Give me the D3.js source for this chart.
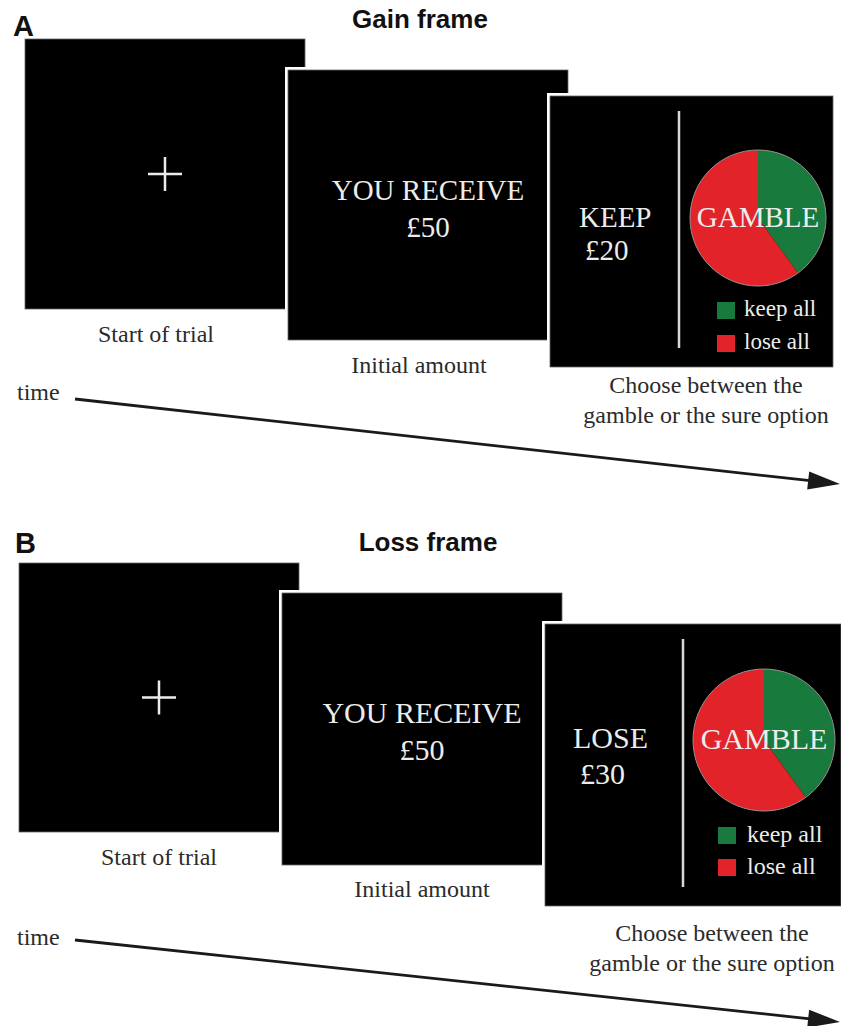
<!DOCTYPE html>
<html><head><meta charset="utf-8">
<script src="https://cdn.jsdelivr.net/npm/d3@7"></script>
<style>
html,body{margin:0;padding:0;background:#fff;}
svg{display:block;}
</style></head>
<body>
<svg id="c" width="841" height="1026"></svg>
<script>
// ---- data ----
const panelLetters = ["A", "B"];
const frameTitles = ["Gain frame", "Loss frame"];
const initialTexts = ["YOU RECEIVE", "£50"];
const sureLabels = ["KEEP", "LOSE"];
const sureAmounts = ["£20", "£30"];
const gambleLabel = "GAMBLE";
const outcomeLabels = ["keep all", "lose all"];
const outcomeProbs = [0.4, 0.6];
const outcomeColors = ["#187a3c", "#e2232a"];
const stepCaptions = ["Start of trial", "Initial amount", "Choose between the", "gamble or the sure option"];
const timeLabel = "time";

// ---- layout (positions only) ----
const layout = [
  { letter:[13,36], title:[420,28], titleSize:26,
    b1:{x:25,y:39,w:280,h:270}, b2:{x:288,y:70,w:280,h:270}, b3:{x:550,y:96,w:283,h:271},
    recv:[200,237], bigSize:29,
    sure:{x1:579,y1:227,x2:585,y2:260}, vline:{x:679,y1:111,y2:348},
    pie:{cx:758,cy:218,r:68}, gambleY:227,
    leg:{sx:717,tx:744,ys:[302,335],ty:[316,349],size:23},
    cap1:[156,342], cap2:[419,373], cap3:[706,393,423],
    time:[17,400], arrow:[75,399,840,484] },
  { letter:[15,553], title:[428,551], titleSize:26,
    b1:{x:19,y:563,w:280,h:269}, b2:{x:282,y:593,w:280,h:272}, b3:{x:545,y:624,w:296,h:282},
    recv:[723,760], bigSize:30,
    sure:{x1:573,y1:748,x2:580,y2:784}, vline:{x:683,y1:639,y2:887},
    pie:{cx:764,cy:740,r:71}, gambleY:749,
    leg:{sx:718,tx:747,ys:[827,859],ty:[842,874],size:24},
    cap1:[159,865], cap2:[422,897], cap3:[712,941,971],
    time:[17,945], arrow:[75,940,840,1022] }
];

const svg = d3.select("#c");
const serif = "'Liberation Serif','Times New Roman',serif";
const sans = "'Liberation Sans',Arial,Helvetica,sans-serif";
const light = "#ececec";

function box(g, b){
  g.append("rect").attr("x", b.x-3).attr("y", b.y-3).attr("width", b.w+6).attr("height", b.h+6).attr("fill", "#fff");
  g.append("rect").attr("x", b.x).attr("y", b.y).attr("width", b.w).attr("height", b.h)
    .attr("fill", "#000").attr("stroke", "#666").attr("stroke-width", 0.8);
}

const pie = d3.pie().sort(null).value(d => d);
const arc = d3.arc().innerRadius(0);

layout.forEach((L, i) => {
  const g = svg.append("g");
  // letter and title
  g.append("text").attr("x", L.letter[0]).attr("y", L.letter[1]).text(panelLetters[i])
    .attr("font-family", sans).attr("font-weight", "bold").attr("font-size", 29).attr("fill", "#111");
  g.append("text").attr("x", L.title[0]).attr("y", L.title[1]).text(frameTitles[i])
    .attr("text-anchor", "middle").attr("font-family", sans).attr("font-weight", "bold")
    .attr("font-size", L.titleSize).attr("fill", "#111");

  // box 1 with fixation cross
  box(g, L.b1);
  const cx = L.b1.x + L.b1.w/2, cy = L.b1.y + L.b1.h/2;
  g.append("line").attr("x1", cx-17).attr("x2", cx+17).attr("y1", cy).attr("y2", cy).attr("stroke", light).attr("stroke-width", 2.5);
  g.append("line").attr("x1", cx).attr("x2", cx).attr("y1", cy-17).attr("y2", cy+17).attr("stroke", light).attr("stroke-width", 2.5);

  // box 2
  box(g, L.b2);
  const c2 = L.b2.x + L.b2.w/2;
  initialTexts.forEach((t, k) => {
    g.append("text").attr("x", c2).attr("y", L.recv[k]).text(t).attr("text-anchor", "middle")
      .attr("font-family", serif).attr("font-size", L.bigSize).attr("fill", light);
  });

  // box 3
  box(g, L.b3);
  g.append("text").attr("x", L.sure.x1).attr("y", L.sure.y1).text(sureLabels[i])
    .attr("font-family", serif).attr("font-size", L.bigSize).attr("fill", light);
  g.append("text").attr("x", L.sure.x2).attr("y", L.sure.y2).text(sureAmounts[i])
    .attr("font-family", serif).attr("font-size", L.bigSize).attr("fill", light);
  g.append("line").attr("x1", L.vline.x).attr("x2", L.vline.x).attr("y1", L.vline.y1).attr("y2", L.vline.y2)
    .attr("stroke", "#d8d8d8").attr("stroke-width", 2.5);

  const pg = g.append("g").attr("transform", `translate(${L.pie.cx},${L.pie.cy})`);
  pg.selectAll("path").data(pie(outcomeProbs)).join("path")
    .attr("d", arc.outerRadius(L.pie.r)).attr("fill", (d, k) => outcomeColors[k]);
  pg.append("circle").attr("r", L.pie.r).attr("fill", "none").attr("stroke", "#9a8f8f").attr("stroke-width", 1);
  g.append("text").attr("x", L.pie.cx).attr("y", L.gambleY).text(gambleLabel).attr("text-anchor", "middle")
    .attr("font-family", serif).attr("font-size", L.bigSize).attr("fill", light);

  outcomeLabels.forEach((t, k) => {
    g.append("rect").attr("x", L.leg.sx).attr("y", L.leg.ys[k]).attr("width", 18).attr("height", 17).attr("fill", outcomeColors[k]);
    g.append("text").attr("x", L.leg.tx).attr("y", L.leg.ty[k]).text(t)
      .attr("font-family", serif).attr("font-size", L.leg.size).attr("fill", light);
  });

  // captions
  const cap = (x, y, t) => g.append("text").attr("x", x).attr("y", y).text(t).attr("text-anchor", "middle")
    .attr("font-family", serif).attr("font-size", 24).attr("fill", "#2b2b2b");
  cap(L.cap1[0], L.cap1[1], stepCaptions[0]);
  cap(L.cap2[0], L.cap2[1], stepCaptions[1]);
  cap(L.cap3[0], L.cap3[1], stepCaptions[2]);
  cap(L.cap3[0], L.cap3[2], stepCaptions[3]);

  // time arrow
  g.append("text").attr("x", L.time[0]).attr("y", L.time[1]).text(timeLabel)
    .attr("font-family", serif).attr("font-size", 24).attr("fill", "#2b2b2b");
  const [x0, y0, x1, y1] = L.arrow;
  const ang = Math.atan2(y1 - y0, x1 - x0);
  const hl = 32, hw = 9;
  const bx = x1 - hl*Math.cos(ang), by = y1 - hl*Math.sin(ang);
  g.append("line").attr("x1", x0).attr("y1", y0).attr("x2", bx + 2*Math.cos(ang)).attr("y2", by + 2*Math.sin(ang))
    .attr("stroke", "#1a1a1a").attr("stroke-width", 2.8);
  const pts = [[x1, y1],
    [bx + hw*Math.sin(ang), by - hw*Math.cos(ang)],
    [bx - hw*Math.sin(ang), by + hw*Math.cos(ang)]];
  g.append("path").attr("d", d3.line()(pts) + "Z").attr("fill", "#1a1a1a");
});
</script>
</body></html>
